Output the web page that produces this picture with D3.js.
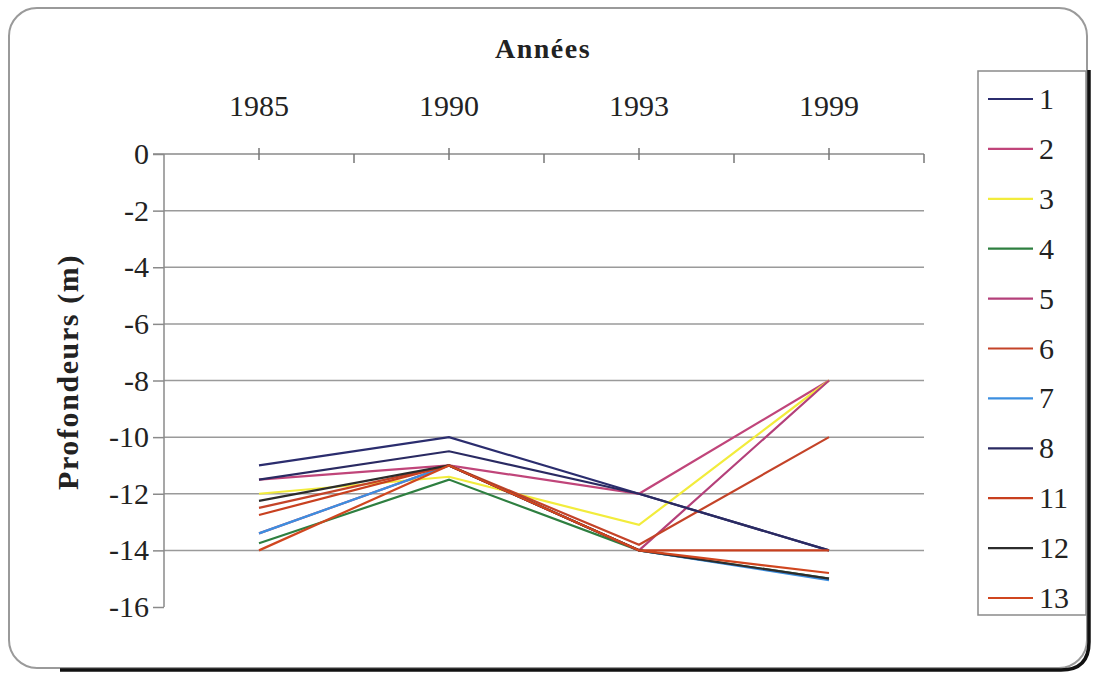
<!DOCTYPE html>
<html>
<head>
<meta charset="utf-8">
<script src="https://cdn.jsdelivr.net/npm/d3@7"></script>
<style>
  html, body { margin: 0; padding: 0; background: #fff; }
  svg { display: block; }
  svg text { fill: #222; }
</style>
</head>
<body>
<svg id="chart" width="1094" height="675"></svg>
<script>
// Survey years (categories along the top axis)
const years = ["1985", "1990", "1993", "1999"];

// Depth tick values (m)
const depthTicks = [0, -2, -4, -6, -8, -10, -12, -14, -16];

// Profile names and colours
const profiles = ["1", "2", "3", "4", "5", "6", "7", "8", "11", "12", "13"];
const colours = ["#2b2d6e", "#c0457a", "#f2ec3c", "#2e7f40", "#b4407a", "#c44328",
                 "#3c8fe0", "#2a2a62", "#c8401f", "#2c2c2c", "#d0461f"];

// Depths per profile, one value per survey year
const p1  = [-11,    -10,   -12,   -14];
const p2  = [-11.5,  -11,   -12,   -8];
const p3  = [-12,    -11.4, -13.1, -8];
const p4  = [-13.75, -11.5, -14,   -15];
const p5  = [-13.4,  -11,   -14,   -8];
const p6  = [-12.5,  -11,   -13.8, -10];
const p7  = [-13.4,  -11,   -14,   -15.05];
const p8  = [-11.5,  -10.5, -12,   -14];
const p11 = [-12.75, -11,   -14,   -14];
const p12 = [-12.25, -11,   -14,   -15];
const p13 = [-14,    -11,   -14,   -14.8];
const depths = [p1, p2, p3, p4, p5, p6, p7, p8, p11, p12, p13];

const FONT = "Liberation Serif, Times New Roman, Times, Tinos, Noto Serif, DejaVu Serif, FreeSerif, serif";
const svg = d3.select("#chart");

// Rounded outer frame with a dark shadow on the right and bottom edges
svg.append("rect")
  .attr("x", 9).attr("y", 8).attr("width", 1078).attr("height", 660)
  .attr("rx", 28).attr("ry", 28)
  .attr("fill", "#fff").attr("stroke", "#9a9a9a").attr("stroke-width", 2);
svg.append("path")
  .attr("d", "M1089,70 L1089,642 Q1089,670 1061,670 L60,670")
  .attr("fill", "none").attr("stroke", "#111").attr("stroke-width", 3.5);

const x = d3.scaleBand().domain(years).range([164, 924]);
const y = d3.scaleLinear().domain([0, -16]).range([154, 607]);
const cx = d => x(d) + x.bandwidth() / 2;

// Horizontal gridlines
svg.append("g").selectAll("line")
  .data(depthTicks.filter(v => v !== 0 && v !== -16))
  .join("line")
  .attr("x1", x.range()[0]).attr("x2", x.range()[1])
  .attr("y1", d => y(d)).attr("y2", d => y(d))
  .attr("stroke", "#9a9a9a").attr("stroke-width", 1.5);

// Left depth axis
const yAxis = svg.append("g")
  .attr("transform", `translate(${x.range()[0]},0)`)
  .call(d3.axisLeft(y).tickValues(depthTicks).tickSize(11).tickPadding(4)
        .tickFormat(d => String(d)));
yAxis.attr("font-family", FONT);
yAxis.select(".domain").attr("stroke", "#8a8a8a").attr("stroke-width", 1.5)
  .attr("d", `M0,${y(0)}V${y(-16)}`);
yAxis.selectAll(".tick line").attr("stroke", "#8a8a8a").attr("stroke-width", 1.5);
yAxis.selectAll(".tick text")
  .attr("font-family", FONT).attr("font-size", 30).attr("fill", "#222");

// Top year axis: labels, baseline and tick marks
const xAxis = svg.append("g")
  .attr("transform", `translate(0,${y(0)})`)
  .call(d3.axisTop(x).tickSize(0).tickPadding(38));
xAxis.attr("font-family", FONT);
xAxis.select(".domain").remove();
xAxis.selectAll(".tick text")
  .attr("font-family", FONT).attr("font-size", 30).attr("fill", "#222");

svg.append("line")
  .attr("x1", x.range()[0] - 11).attr("x2", x.range()[1])
  .attr("y1", y(0)).attr("y2", y(0))
  .attr("stroke", "#8a8a8a").attr("stroke-width", 1.5);
// ticks crossing the axis at each year
svg.append("g").selectAll("line").data(years).join("line")
  .attr("x1", d => cx(d)).attr("x2", d => cx(d))
  .attr("y1", y(0) - 6).attr("y2", y(0) + 6)
  .attr("stroke", "#777").attr("stroke-width", 1.5);
// ticks between categories
const bounds = years.slice(1).map(d => x(d)).concat([x.range()[1]]);
svg.append("g").selectAll("line").data(bounds).join("line")
  .attr("x1", d => d).attr("x2", d => d)
  .attr("y1", y(0)).attr("y2", y(0) + 9)
  .attr("stroke", "#777").attr("stroke-width", 1.5);

// Axis titles
svg.append("text")
  .attr("x", (x.range()[0] + x.range()[1]) / 2 - 1).attr("y", 58)
  .attr("text-anchor", "middle")
  .attr("font-family", FONT)
  .attr("font-size", 28).attr("font-weight", "bold").attr("letter-spacing", 1.5)
  .text("Années");
svg.append("text")
  .attr("transform", "translate(78,372) rotate(-90)")
  .attr("text-anchor", "middle")
  .attr("font-family", FONT)
  .attr("font-size", 30).attr("font-weight", "bold").attr("letter-spacing", 1.6)
  .text("Profondeurs (m)");

// Profile lines
const line = d3.line().x((d, i) => cx(years[i])).y(d => y(d));
svg.append("g").selectAll("path")
  .data(depths)
  .join("path")
  .attr("d", d => line(d))
  .attr("fill", "none")
  .attr("stroke", (d, i) => colours[i])
  .attr("stroke-width", 2.2)
  .attr("stroke-linejoin", "miter");

// Legend
const legend = svg.append("g");
legend.append("rect")
  .attr("x", 978).attr("y", 71).attr("width", 108).attr("height", 544)
  .attr("fill", "#fff").attr("stroke", "#8a8a8a").attr("stroke-width", 1.5);
const rowY = d3.scalePoint().domain(profiles).range([99, 598]);
const rows = legend.selectAll("g.row").data(profiles).join("g")
  .attr("class", "row")
  .attr("transform", d => `translate(0,${rowY(d)})`);
rows.append("line")
  .attr("x1", 988).attr("x2", 1033).attr("y1", 0).attr("y2", 0)
  .attr("stroke", (d, i) => colours[i]).attr("stroke-width", 2.2);
rows.append("text")
  .attr("x", 1039).attr("y", 10)
  .attr("font-family", FONT)
  .attr("font-size", 30)
  .text(d => d);
</script>
</body>
</html>
